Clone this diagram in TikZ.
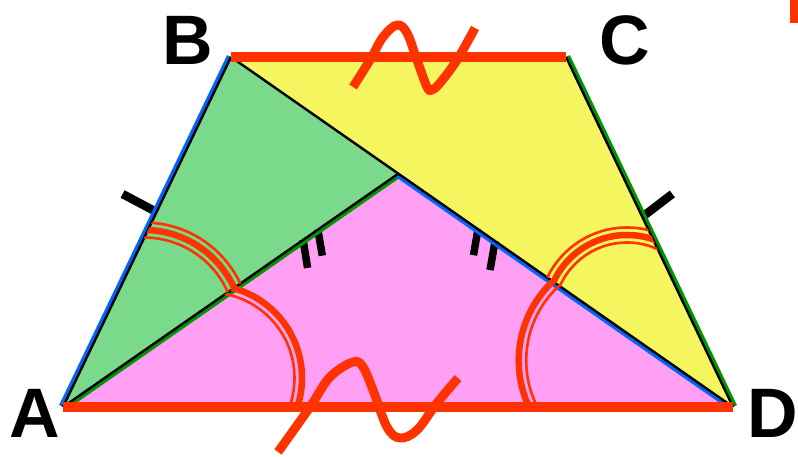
\documentclass[tikz,border=0pt]{standalone}
\usepackage{fontspec}
\setmainfont{Liberation Sans}
\usetikzlibrary{calc}
\definecolor{myred}{RGB}{255,51,0}
\definecolor{mygreenfill}{RGB}{122,217,138}
\definecolor{myyellow}{RGB}{245,245,95}
\definecolor{mypink}{RGB}{255,160,245}
\definecolor{myblue}{RGB}{0,102,255}
\definecolor{mygreenline}{RGB}{0,150,0}
\begin{document}
\begin{tikzpicture}[x=1pt,y=1pt,
  lbl/.style={font=\fontsize{70}{70}\selectfont\bfseries, inner sep=0pt},
  edgered/.style={draw=myred, line width=10pt},
  edgeblk/.style={draw=black, line width=2.4pt},
  edgecol/.style={line width=4.2pt},
  tickmark/.style={draw=black, line width=8.5pt},
  arcthick/.style={draw=myred, line width=6.5pt},
  arcthin/.style={draw=myred, line width=2.6pt},
  wave/.style={draw=myred, line width=9pt, line join=round}]
\useasboundingbox (0,0) rectangle (798,457);
\coordinate (A) at (63,50);
\coordinate (B) at (231,400);
\coordinate (C) at (566,400);
\coordinate (D) at (733,50);
\coordinate (E) at (intersection of A--C and B--D);

% fills
\fill[mygreenfill] (A)--(B)--(E)--cycle;
\fill[myyellow] (B)--(C)--(D)--cycle;
\fill[mypink] (A)--(E)--(D)--cycle;

% ticks
\draw[tickmark] ($(A)!0.557!(B)$) -- +(-34,18);
\draw[tickmark] ($(C)!0.457!(D)$) -- +(30,23);
\draw[tickmark, line width=7.5pt] ($(A)!0.716!(E)$) -- +(4.5,-28);
\draw[tickmark, line width=7.5pt] ($(A)!0.760!(E)$) -- +(4.5,-26);
\draw[tickmark, line width=7.5pt] ($(E)!0.238!(D)$) -- +(-4.5,-26);
\draw[tickmark, line width=7.5pt] ($(E)!0.289!(D)$) -- +(-5,-29);

% coloured edges
\draw[edgecol, myblue] ([shift={(-2.0,1.0)}]A) -- ([shift={(-2.0,1.0)}]B);
\draw[edgecol, mygreenline] ([shift={(1.2,-1.8)}]A) -- ([shift={(1.2,-1.8)}]E);
\draw[edgecol, myblue] ([shift={(-1.2,-1.8)}]E) -- ([shift={(-1.2,-1.8)}]D);
\draw[edgecol, mygreenline] ([shift={(2.0,1.0)}]C) -- ([shift={(2.0,1.0)}]D);
% black edges
\draw[edgeblk] (A) -- (B);
\draw[edgeblk] (B) -- (D);
\draw[edgeblk] (A) -- (E);
\draw[edgeblk] (C) -- (D);
% red edges
\draw[edgered] (B) -- (C);
\draw[edgered] (A) -- (D);

% angle arcs
\begin{scope}
\clip (B)--(E)--($(A)!0.25!(E)$)--($(A)!0.25!(B)$)--cycle;
\draw[arcthick] (144,128) circle[radius=99];
\draw[arcthin] (144,128) circle[radius=106.5];
\draw[arcthin] (144,128) circle[radius=91.5];
\end{scope}
\begin{scope}
\clip (E)--(D)--($(A)!0.2!(D)$)--($(A)!0.3!(E)$)--cycle;
\draw[arcthick] (209,79) circle[radius=93];
\draw[arcthin] (209,79) circle[radius=85.5];
\end{scope}
\begin{scope}
\clip (A)--(E)--($(D)!0.3!(E)$)--($(D)!0.15!(A)$)--cycle;
\draw[arcthick] (627.7,96.4) circle[radius=109];
\draw[arcthin] (627.7,96.4) circle[radius=101.5];
\end{scope}
\begin{scope}
\clip (B)--(C)--($(D)!0.3!(C)$)--($(D)!0.25!(B)$)--cycle;
\draw[arcthick] (627,141) circle[radius=81];
\draw[arcthin] (627,141) circle[radius=88.5];
\draw[arcthin] (627,141) circle[radius=73.5];
\end{scope}

% waves
\draw[wave] plot[smooth, tension=0.6] coordinates {(353,370) (370,397) (383,420) (397,432) (407,424) (417,397) (427,370) (432,367) (440,374) (457,397) (475,429)};
\draw[wave] plot[smooth, tension=0.6] coordinates {(278,5) (310,50) (330,80) (353,95) (363,90) (373,67) (387,30) (400,19) (417,27) (437,54) (458,79)};

% corner mark
\fill[myred] (790,434) rectangle (798,457);

% labels
\node[lbl] (lA) at (35,44) {A};
\node[lbl] (lB) at (188,417) {B};
\node[lbl] (lC) at (625,417) {C};
\node[lbl] (lD) at (773,44) {D};
\end{tikzpicture}
\end{document}
